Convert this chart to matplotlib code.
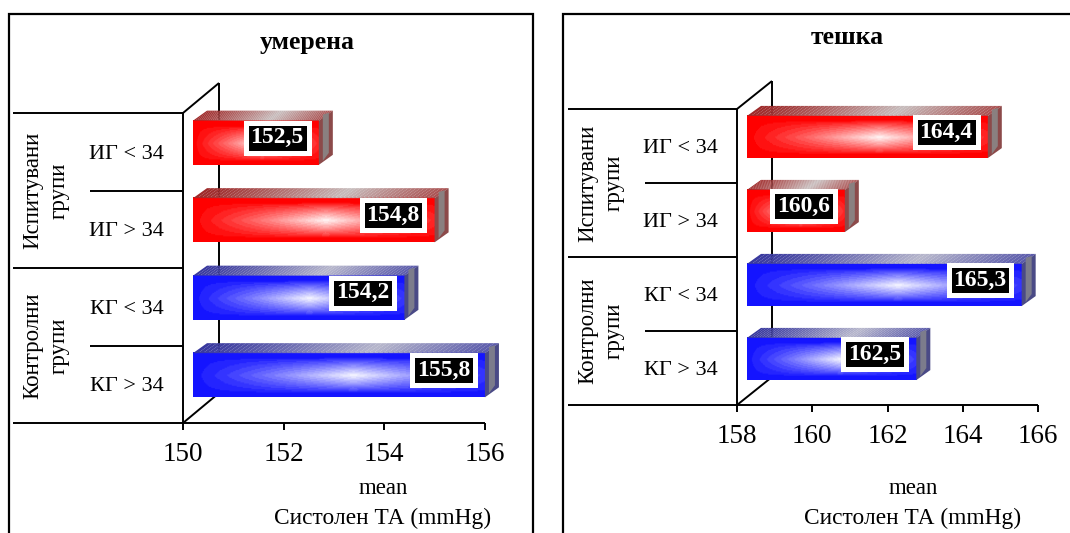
import numpy as np
import matplotlib
matplotlib.use("Agg")
import matplotlib.pyplot as plt
from matplotlib.patches import Polygon, Rectangle

plt.rcParams['font.family'] = ['Liberation Serif', 'DejaVu Serif']

W, H = 1070, 533

# --- data ---
categories = ['ИГ < 34', 'ИГ > 34', 'КГ < 34', 'КГ > 34']
group_labels = ['Испитувани\nгрупи', 'Контролни\nгрупи']
bar_groups = ['ИГ', 'ИГ', 'КГ', 'КГ']
moderate_mean = [152.5, 154.8, 154.2, 155.8]
severe_mean = [164.4, 160.6, 165.3, 162.5]
moderate_ticks = [150, 152, 154, 156]
severe_ticks = [158, 160, 162, 164, 166]

# colours per group: front base, top face (edge, middle), side face (outer, inner)
FRONT = {'ИГ': np.array([1.0, 0.0, 0.0]), 'КГ': np.array([0.08, 0.08, 1.0])}
TOP_EDGE = {'ИГ': np.array([0.62, 0.16, 0.16]), 'КГ': np.array([0.22, 0.22, 0.62])}
TOP_MID = {'ИГ': np.array([0.78, 0.74, 0.74]), 'КГ': np.array([0.72, 0.72, 0.80])}
SIDE_OUT = {'ИГ': '#8c4a4a', 'КГ': '#4a4a86'}
SIDE_IN = {'ИГ': '#8a8080', 'КГ': '#7c7c8c'}


def front_gradient(base, nx=240, ny=40):
    u = np.linspace(0, 1, nx)
    t = np.linspace(0, 1, ny)
    hx = np.clip(1 - np.abs(u - 0.55) / 0.55, 0, 1) ** 1.1
    hy = np.clip(1 - np.abs(t - 0.52) / 0.40, 0, 1) ** 0.8
    w = np.outer(hy, hx)
    w = np.round(w * 14) / 14 * 0.97
    img = base[None, None, :] * (1 - w[..., None]) + w[..., None]
    return np.clip(img, 0, 1)


def draw_panel(fig, values, ticks, title, frame, origin, right_px, top_px,
               wall, outer_px, inner_px, group_px, title_xy, xlab_x):
    left, bottom = origin
    ax = fig.add_axes([left / W, 1 - bottom / H, (right_px - left) / W,
                       (bottom - top_px) / H])
    x0, x1 = ticks[0], ticks[-1]
    sx = (x1 - x0) / (right_px - left)
    sy = 4 / (bottom - top_px)

    def P(xd, yd, dxp=0, dyp=0):
        return (xd + dxp * sx, yd - dyp * sy)

    lk = dict(color='black', lw=1.4, clip_on=False, solid_capstyle='butt')
    # side table
    ax.plot([x0 - (left - outer_px) * sx, x0], [-0.5, -0.5], **lk)
    ax.plot([x0 - (left - inner_px) * sx, x0], [0.5, 0.5], **lk)
    ax.plot([x0 - (left - outer_px) * sx, x0], [1.5, 1.5], **lk)
    ax.plot([x0 - (left - inner_px) * sx, x0], [2.5, 2.5], **lk)
    ax.plot([x0 - (left - outer_px) * sx, x1], [3.5, 3.5], **lk)
    ax.plot([x0, x0], [-0.5, 3.5], **lk)
    # back wall
    wx, wy = wall
    for a, b in [((x0, -0.5), P(x0, -0.5, wx, wy)), ((x0, 3.5), P(x0, 3.5, wx, wy)),
                 (P(x0, -0.5, wx, wy), P(x0, 3.5, wx, wy))]:
        ax.plot([a[0], b[0]], [a[1], b[1]], **lk, zorder=1)

    fx, fy = 10, 9
    dx, dy = 14, 10
    h = 0.57
    for i, (v, g) in enumerate(zip(values, bar_groups)):
        yt, yb = i - h / 2, i + h / 2
        ax.imshow(front_gradient(FRONT[g]), aspect='auto', interpolation='bilinear',
                  extent=[x0 + fx * sx, v + fx * sx, yb - fy * sy, yt - fy * sy],
                  zorder=4, clip_on=False)
        # top face as stripes
        n = 60
        us = np.linspace(0, 1, n + 1)
        for k in range(n):
            uc = (us[k] + us[k + 1]) / 2
            m = np.clip(1 - abs(uc - 0.6) / 0.6, 0, 1) ** 1.2
            col = TOP_EDGE[g] * (1 - m) + TOP_MID[g] * m
            xa = x0 + us[k] * (v - x0)
            xb = x0 + us[k + 1] * (v - x0) + 0.002
            ax.add_patch(Polygon([P(xa, yt, fx, fy), P(xb, yt, fx, fy),
                                  P(xb, yt, fx + dx, fy + dy), P(xa, yt, fx + dx, fy + dy)],
                                 closed=True, fc=col, ec='none', zorder=4, clip_on=False))
        ax.add_patch(Polygon([P(v, yt, fx, fy), P(v, yt, fx + dx, fy + dy),
                              P(v, yb, fx + dx, fy + dy), P(v, yb, fx, fy)],
                             closed=True, fc=SIDE_OUT[g], ec='none', zorder=4, clip_on=False))
        ax.add_patch(Polygon([P(v, yt, fx + 4, fy + 6), P(v, yt, fx + dx - 4, fy + dy - 2),
                              P(v, yb, fx + dx - 4, fy + dy + 2), P(v, yb, fx + 4, fy + 4)],
                             closed=True, fc=SIDE_IN[g], ec='none', zorder=4, clip_on=False))
        ax.annotate(f"{v:.1f}".replace('.', ','), xy=(v, i), xytext=(-5, 14),
                    textcoords='offset pixels', ha='right', va='center',
                    fontsize=17, fontweight='bold', color='white', zorder=10,
                    annotation_clip=False,
                    bbox=dict(boxstyle='square,pad=0.2', fc='black', ec='white', lw=3.6))

    for gi, lab in enumerate(group_labels):
        ax.text(x0 - (left - group_px) * sx, 2 * gi + 0.5, lab, rotation=90,
                ha='center', va='center', multialignment='center',
                linespacing=1.3, fontsize=16.5)

    ax.set_xlim(x0, x1)
    ax.set_ylim(3.5, -0.5)
    ax.set_xticks(ticks)
    ax.tick_params(axis='x', length=5, width=1.4, direction='out', labelsize=19.5, pad=9)
    ax.set_yticks(range(len(categories)), categories)
    ax.tick_params(axis='y', length=0, pad=19 * 0.72, labelsize=16)
    for s in ax.spines.values():
        s.set_visible(False)
    ax.patch.set_visible(False)

    fig.text(title_xy[0] / W, 1 - title_xy[1] / H, title, ha='center', va='center',
             fontsize=18.5, fontweight='bold')
    fig.text(xlab_x / W, 1 - 488 / H, 'mean', ha='center', va='center', fontsize=16.5)
    fig.text(xlab_x / W, 1 - 518 / H, 'Систолен ТА (mmHg)', ha='center', va='center',
             fontsize=16.8)
    fx0, fx1 = frame
    fig.add_artist(Rectangle((fx0 / W, -0.1), (fx1 - fx0) / W, 1 - 14 / H + 0.1,
                             transform=fig.transFigure, fill=False, ec='black', lw=1.6))


fig = plt.figure(figsize=(W / 100, H / 100), dpi=100)
draw_panel(fig, moderate_mean, moderate_ticks, 'умерена', (9, 533), (183, 423), 485, 113,
           (36, 30), 13, 90, 46, (307, 42), 383)
draw_panel(fig, severe_mean, severe_ticks, 'тешка', (563, 1080), (737, 405), 1038, 109,
           (35, 28), 568, 645, 601, (847, 38), 913)
fig.savefig('out.png', dpi=100)
